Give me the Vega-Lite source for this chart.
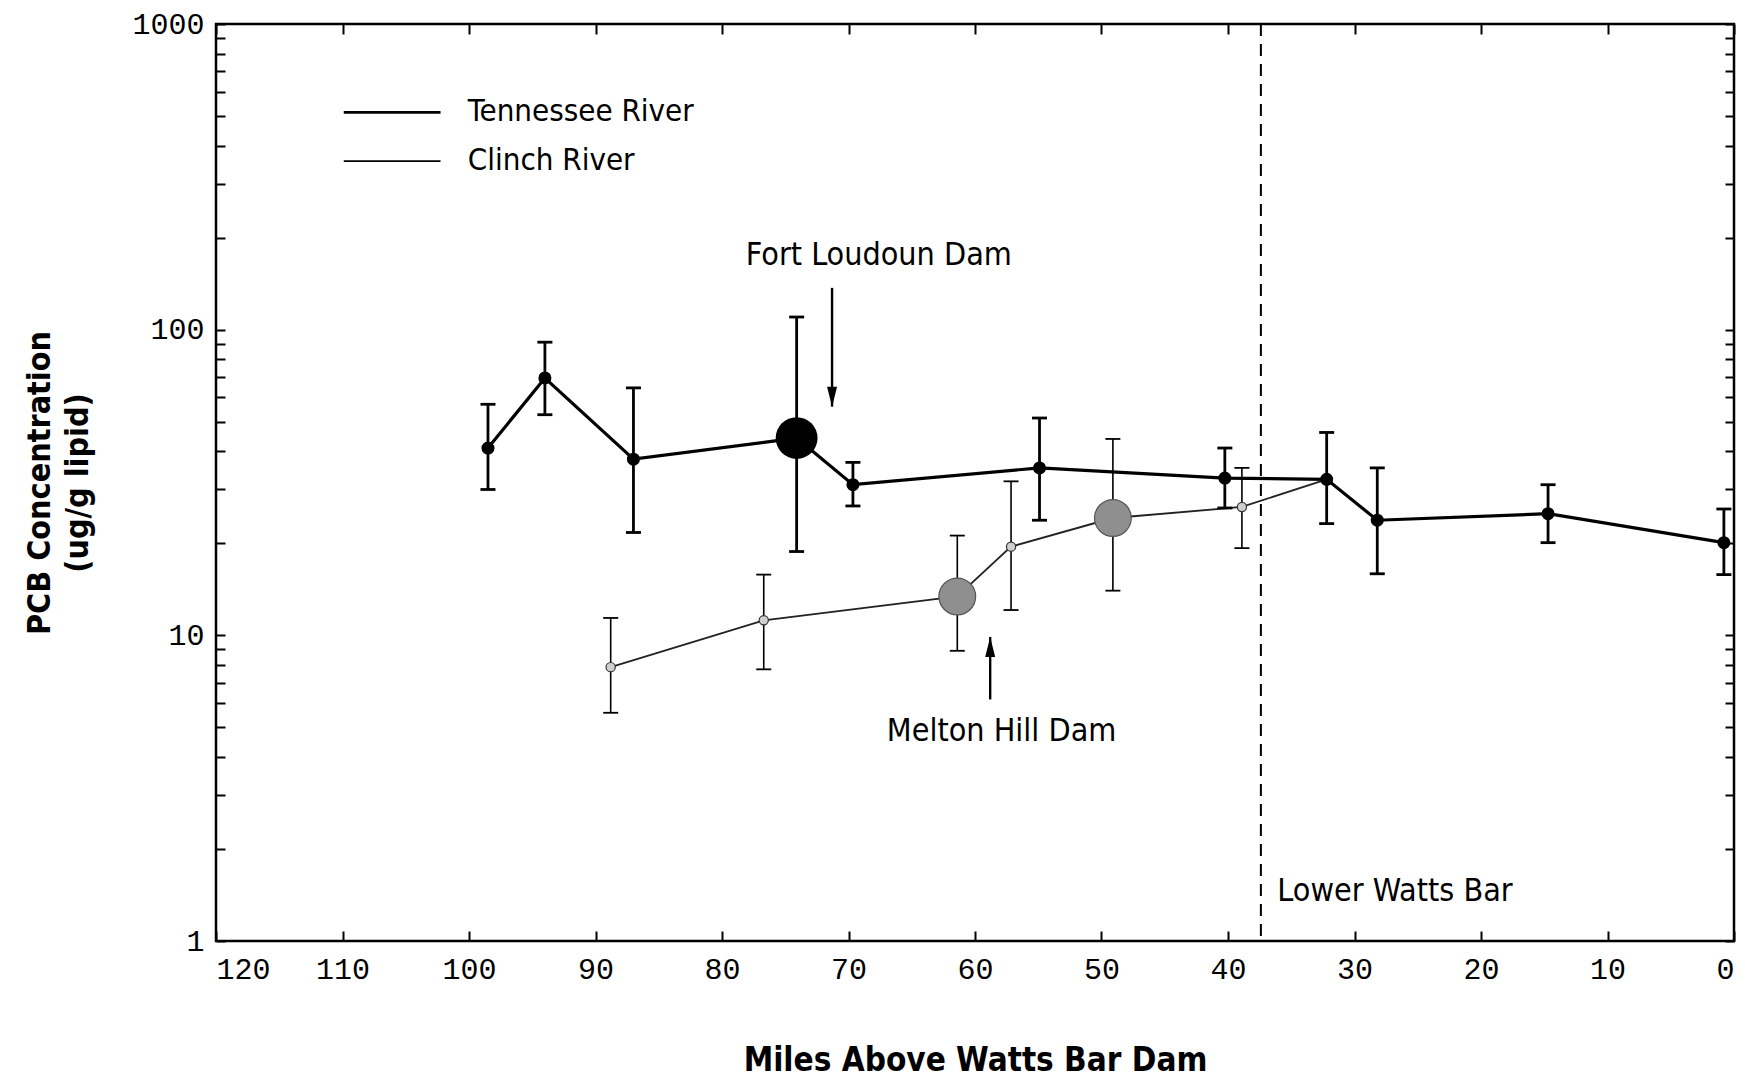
{
  "$schema": "https://vega.github.io/schema/vega-lite/v6.json",
  "width": 1518,
  "height": 917,
  "autosize": "none",
  "padding": {"left": 216, "top": 24, "right": 11, "bottom": 137},
  "background": "white",
  "config": {
    "view": {"stroke": "black", "strokeWidth": 2.5},
    "axis": {"domain": false, "grid": false, "tickColor": "black", "labelColor": "black", "titleColor": "black", "tickWidth": 2}
  },
  "datasets": {
    "samples": [
      {"river": "Tennessee River", "site": "reservoir", "mile": 98.5, "pcb": 41, "lo": 30, "hi": 57},
      {"river": "Tennessee River", "site": "reservoir", "mile": 94, "pcb": 69.5, "lo": 52.7, "hi": 91},
      {"river": "Tennessee River", "site": "reservoir", "mile": 87, "pcb": 37.7, "lo": 21.7, "hi": 64.5},
      {"river": "Tennessee River", "site": "dam", "mile": 74.1, "pcb": 44.2, "lo": 18.8, "hi": 110},
      {"river": "Tennessee River", "site": "reservoir", "mile": 69.65, "pcb": 31.1, "lo": 26.5, "hi": 36.8},
      {"river": "Tennessee River", "site": "reservoir", "mile": 54.9, "pcb": 35.3, "lo": 23.8, "hi": 51.4},
      {"river": "Tennessee River", "site": "reservoir", "mile": 40.25, "pcb": 32.7, "lo": 26.1, "hi": 41},
      {"river": "Tennessee River", "site": "reservoir", "mile": 32.2, "pcb": 32.4, "lo": 23.2, "hi": 46.1},
      {"river": "Tennessee River", "site": "reservoir", "mile": 28.2, "pcb": 23.8, "lo": 15.9, "hi": 35.3},
      {"river": "Tennessee River", "site": "reservoir", "mile": 14.7, "pcb": 25, "lo": 20.1, "hi": 31.1},
      {"river": "Tennessee River", "site": "reservoir", "mile": 0.8, "pcb": 20.1, "lo": 15.8, "hi": 25.9},
      {"river": "Clinch River", "site": "reservoir", "mile": 88.8, "pcb": 7.87, "lo": 5.58, "hi": 11.4},
      {"river": "Clinch River", "site": "reservoir", "mile": 76.7, "pcb": 11.2, "lo": 7.74, "hi": 15.8},
      {"river": "Clinch River", "site": "dam", "mile": 61.4, "pcb": 13.4, "lo": 8.9, "hi": 21.2},
      {"river": "Clinch River", "site": "reservoir", "mile": 57.15, "pcb": 19.5, "lo": 12.1, "hi": 31.9},
      {"river": "Clinch River", "site": "dam", "mile": 49.1, "pcb": 24.2, "lo": 14.0, "hi": 43.9},
      {"river": "Clinch River", "site": "reservoir", "mile": 38.9, "pcb": 26.3, "lo": 19.3, "hi": 35.3},
      {"river": "Clinch River", "site": "confluence", "mile": 32.2, "pcb": 32.4, "lo": null, "hi": null}
    ],
    "key": [
      {"river": "Tennessee River", "at": 514},
      {"river": "Clinch River", "at": 356}
    ],
    "notes": [
      {"label": "Fort Loudoun Dam", "mile": 67.6, "pcb": 176},
      {"label": "Melton Hill Dam", "mile": 57.9, "pcb": 4.88},
      {"label": "Lower Watts Bar", "mile": 26.8, "pcb": 1.46}
    ],
    "arrows": [
      {"dam": "Fort Loudoun Dam", "dir": "down", "mile": 71.3, "from": 137, "to": 56},
      {"dam": "Melton Hill Dam", "dir": "up", "mile": 58.8, "from": 6.17, "to": 9.87}
    ],
    "boundary": [{"name": "Lower Watts Bar", "mile": 37.4}]
  },
  "resolve": {"axis": {"x": "independent", "y": "independent"}},
  "layer": [
    {
      "data": {"name": "boundary"},
      "mark": {"type": "rule", "strokeDash": [12, 8], "strokeWidth": 2, "color": "black"},
      "encoding": {
        "x": {"field": "mile", "type": "quantitative", "scale": {"domain": [0, 120], "reverse": true, "nice": false}, "axis": null}
      }
    },
    {
      "data": {"name": "samples"},
      "transform": [{"filter": "datum.river == 'Tennessee River'"}],
      "mark": {"type": "line", "strokeWidth": 3.2, "color": "black"},
      "encoding": {
        "x": {"field": "mile", "type": "quantitative", "scale": {"domain": [0, 120], "reverse": true, "nice": false},
          "axis": {"orient": "bottom", "values": [0, 10, 20, 30, 40, 50, 60, 70, 80, 90, 100, 110, 120], "tickSize": -10,
            "labelFont": "Liberation Mono", "labelFontSize": 30, "labelPadding": 23,
            "title": "Miles Above Watts Bar Dam", "titleFont": "DejaVu Sans Condensed, sans-serif", "titleFontWeight": "bold", "titleFontSize": 33, "titlePadding": 60}},
        "y": {"field": "pcb", "type": "quantitative", "scale": {"type": "log", "domain": [1, 1000], "nice": false},
          "axis": {"orient": "left", "values": [1, 2, 3, 4, 5, 6, 7, 8, 9, 10, 20, 30, 40, 50, 60, 70, 80, 90, 100, 200, 300, 400, 500, 600, 700, 800, 900, 1000],
            "format": "d", "labelExpr": "indexof([1, 10, 100, 1000], datum.value) >= 0 ? datum.label : ''",
            "tickSize": -9, "labelFont": "Liberation Mono", "labelFontSize": 30, "labelPadding": 21,
            "title": ["PCB Concentration", "(ug/g lipid)"], "titleFont": "DejaVu Sans Condensed, sans-serif", "titleFontWeight": "bold", "titleFontSize": 32, "titleLineHeight": 38, "titlePadding": 37}}
      }
    },
    {
      "data": {"name": "samples"},
      "transform": [{"filter": "datum.river == 'Clinch River'"}],
      "mark": {"type": "line", "strokeWidth": 1.8, "color": "#222"},
      "encoding": {
        "x": {"field": "mile", "type": "quantitative", "scale": {"domain": [0, 120], "reverse": true, "nice": false},
          "axis": {"orient": "top", "values": [0, 10, 20, 30, 40, 50, 60, 70, 80, 90, 100, 110, 120], "tickSize": -10, "labels": false, "title": null}},
        "y": {"field": "pcb", "type": "quantitative", "scale": {"type": "log", "domain": [1, 1000], "nice": false},
          "axis": {"orient": "right", "values": [1, 2, 3, 4, 5, 6, 7, 8, 9, 10, 20, 30, 40, 50, 60, 70, 80, 90, 100, 200, 300, 400, 500, 600, 700, 800, 900, 1000], "tickSize": -9, "labels": false, "title": null}}
      }
    },
    {
      "data": {"name": "samples"},
      "transform": [{"filter": "datum.lo != null"}],
      "mark": {"type": "rule", "color": "black"},
      "encoding": {
        "x": {"field": "mile", "type": "quantitative", "axis": null},
        "y": {"field": "lo", "type": "quantitative", "axis": null},
        "y2": {"field": "hi"},
        "strokeWidth": {"field": "river", "type": "nominal", "scale": {"domain": ["Tennessee River", "Clinch River"], "range": [2.8, 1.6]}, "legend": null}
      }
    },
    {
      "data": {"name": "samples"},
      "transform": [{"filter": "datum.lo != null && datum.river == 'Tennessee River'"}, {"fold": ["lo", "hi"], "as": ["end", "bound"]}],
      "mark": {"type": "tick", "orient": "horizontal", "size": 15, "thickness": 2.8, "color": "black", "opacity": 1},
      "encoding": {
        "x": {"field": "mile", "type": "quantitative", "axis": null},
        "y": {"field": "bound", "type": "quantitative", "axis": null}
      }
    },
    {
      "data": {"name": "samples"},
      "transform": [{"filter": "datum.lo != null && datum.river == 'Clinch River'"}, {"fold": ["lo", "hi"], "as": ["end", "bound"]}],
      "mark": {"type": "tick", "orient": "horizontal", "size": 15, "thickness": 1.8, "color": "black", "opacity": 1},
      "encoding": {
        "x": {"field": "mile", "type": "quantitative", "axis": null},
        "y": {"field": "bound", "type": "quantitative", "axis": null}
      }
    },
    {
      "data": {"name": "samples"},
      "transform": [{"filter": "datum.river == 'Tennessee River' && datum.site == 'reservoir'"}],
      "mark": {"type": "circle", "size": 170, "color": "black", "opacity": 1},
      "encoding": {
        "x": {"field": "mile", "type": "quantitative", "axis": null},
        "y": {"field": "pcb", "type": "quantitative", "axis": null}
      }
    },
    {
      "data": {"name": "samples"},
      "transform": [{"filter": "datum.river == 'Tennessee River' && datum.site == 'dam'"}],
      "mark": {"type": "circle", "size": 1750, "color": "black", "opacity": 1},
      "encoding": {
        "x": {"field": "mile", "type": "quantitative", "axis": null},
        "y": {"field": "pcb", "type": "quantitative", "axis": null}
      }
    },
    {
      "data": {"name": "samples"},
      "transform": [{"filter": "datum.river == 'Clinch River' && datum.site == 'reservoir'"}],
      "mark": {"type": "point", "shape": "circle", "size": 85, "filled": true, "fill": "#cfcfcf", "stroke": "#333", "strokeWidth": 1.2, "opacity": 1},
      "encoding": {
        "x": {"field": "mile", "type": "quantitative", "axis": null},
        "y": {"field": "pcb", "type": "quantitative", "axis": null}
      }
    },
    {
      "data": {"name": "samples"},
      "transform": [{"filter": "datum.river == 'Clinch River' && datum.site == 'dam'"}],
      "mark": {"type": "point", "shape": "circle", "size": 1350, "filled": true, "fill": "#8f8f8f", "stroke": "#555", "strokeWidth": 1.2, "opacity": 1},
      "encoding": {
        "x": {"field": "mile", "type": "quantitative", "axis": null},
        "y": {"field": "pcb", "type": "quantitative", "axis": null}
      }
    },
    {
      "data": {"name": "arrows"},
      "mark": {"type": "rule", "color": "black", "strokeWidth": 2.4},
      "encoding": {
        "x": {"field": "mile", "type": "quantitative", "axis": null},
        "y": {"field": "from", "type": "quantitative", "axis": null},
        "y2": {"field": "to"}
      }
    },
    {
      "data": {"name": "arrows"},
      "mark": {"type": "point", "filled": true, "color": "black", "size": 400, "opacity": 1},
      "encoding": {
        "x": {"field": "mile", "type": "quantitative", "axis": null},
        "y": {"field": "to", "type": "quantitative", "axis": null},
        "shape": {"field": "dir", "type": "nominal", "scale": {"domain": ["down", "up"], "range": ["M0,0L-0.5,-2L0.5,-2Z", "M0,0L-0.5,2L0.5,2Z"]}, "legend": null}
      }
    },
    {
      "data": {"name": "notes"},
      "mark": {"type": "text", "font": "DejaVu Sans Condensed, sans-serif", "fontSize": 32, "color": "black", "align": "center", "baseline": "middle"},
      "encoding": {
        "x": {"field": "mile", "type": "quantitative", "axis": null},
        "y": {"field": "pcb", "type": "quantitative", "axis": null},
        "text": {"field": "label"}
      }
    },
    {
      "data": {"name": "key"},
      "mark": {"type": "rule", "color": "black"},
      "encoding": {
        "x": {"datum": 109.9, "type": "quantitative", "axis": null},
        "x2": {"datum": 102.25},
        "y": {"field": "at", "type": "quantitative", "axis": null},
        "strokeWidth": {"field": "river", "type": "nominal", "scale": {"domain": ["Tennessee River", "Clinch River"], "range": [2.8, 1.6]}, "legend": null}
      }
    },
    {
      "data": {"name": "key"},
      "mark": {"type": "text", "font": "DejaVu Sans Condensed, sans-serif", "fontSize": 31, "color": "black", "align": "left", "baseline": "middle"},
      "encoding": {
        "x": {"datum": 100.1, "type": "quantitative", "axis": null},
        "y": {"field": "at", "type": "quantitative", "axis": null},
        "text": {"field": "river"}
      }
    }
  ]
}
